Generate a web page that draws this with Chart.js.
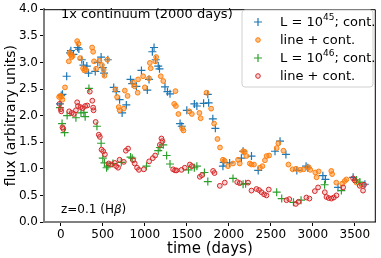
<!DOCTYPE html>
<html>
<head>
<meta charset="utf-8">
<script src="https://cdn.jsdelivr.net/npm/chart.js@4.4.1/dist/chart.umd.min.js"></script>
<style>
  html, body { margin: 0; padding: 0; background: #fff; }
  #wrap { width: 381px; height: 258px; }
</style>
</head>
<body>
<div id="wrap"><canvas id="fluxChart" width="381" height="258"></canvas></div>
<script>
// light curves (days, arbitrary flux)
const cont45Days = [-10, 5, 20, 70, 110, 120, 150, 200, 215, 250, 270, 310, 330, 410, 440, 480, 500, 515, 560, 630, 660, 700, 730, 780, 830, 850, 900, 960, 1030, 1050, 1090, 1110, 1130, 1160, 1175, 1240, 1270, 1300, 1420, 1440, 1500, 1590, 1620, 1700, 1750, 1760, 1810, 1840, 1930, 1940, 2010, 2150, 2170, 2270, 2350, 2550, 2610, 2680, 2810, 2920, 2940, 3120, 3150, 3300, 3480, 3620];
const cont45Flux = [2.22, 2.38, 2.40, 2.74, 3.18, 3.22, 3.15, 3.28, 3.25, 3.05, 2.95, 2.93, 2.80, 2.83, 3.00, 3.10, 2.90, 2.80, 3.05, 2.53, 2.45, 2.30, 2.05, 2.20, 2.68, 2.60, 2.55, 2.85, 2.48, 2.68, 3.20, 3.28, 3.05, 2.93, 2.88, 2.54, 2.45, 2.41, 1.85, 1.80, 2.10, 2.22, 2.18, 2.23, 2.40, 2.24, 1.94, 1.76, 1.05, 1.12, 1.11, 1.20, 1.33, 1.24, 0.97, 1.33, 1.52, 1.27, 0.97, 1.05, 1.02, 0.87, 0.80, 0.65, 0.84, 0.71];

const line45Days = [-20, -5, 10, 20, 50, 95, 105, 115, 130, 140, 195, 210, 230, 265, 280, 300, 373, 385, 395, 420, 460, 490, 510, 520, 555, 650, 670, 690, 700, 750, 762, 795, 860, 880, 915, 920, 980, 1000, 1050, 1060, 1070, 1125, 1135, 1190, 1220, 1365, 1350, 1370, 1400, 1445, 1460, 1530, 1560, 1650, 1665, 1735, 1790, 1825, 1865, 1895, 1930, 1950, 1990, 2050, 2110, 2130, 2170, 2190, 2210, 2250, 2270, 2300, 2370, 2400, 2430, 2450, 2480, 2570, 2590, 2650, 2710, 2760, 2800, 2850, 2890, 2950, 2970, 3030, 3045, 3070, 3220, 3230, 3280, 3350, 3380, 3400, 3520, 3580];
const line45Flux = [2.35, 2.37, 2.36, 2.30, 2.53, 3.02, 3.18, 3.15, 3.10, 3.12, 3.40, 3.35, 3.08, 2.89, 2.85, 2.86, 3.28, 3.20, 3.02, 2.88, 3.03, 2.95, 2.86, 2.75, 3.05, 2.49, 2.35, 2.16, 2.10, 2.13, 2.47, 2.37, 2.62, 2.55, 2.43, 2.68, 2.74, 2.53, 2.70, 2.99, 2.89, 3.02, 3.10, 2.74, 2.65, 2.46, 2.22, 2.18, 2.03, 1.76, 1.72, 2.08, 2.03, 2.05, 1.95, 2.43, 2.13, 1.85, 1.56, 1.40, 1.17, 1.15, 1.05, 1.10, 1.17, 1.10, 1.33, 1.32, 1.24, 1.10, 1.08, 1.08, 1.02, 1.05, 1.16, 1.24, 1.25, 1.39, 1.48, 1.34, 1.08, 0.99, 1.00, 0.98, 0.99, 1.03, 0.98, 0.93, 0.84, 0.95, 0.96, 0.90, 0.74, 0.72, 0.77, 0.80, 0.74, 0.70];

const cont46Days = [-10, 15, 45, 75, 180, 240, 275, 290, 335, 430, 480, 500, 520, 545, 560, 620, 720, 830, 850, 1020, 1160, 1180, 1220, 1260, 1300, 1520, 1590, 1620, 1710, 1750, 2050, 2170, 2200, 2570, 2630, 2770, 2860, 3140, 3340, 3520, 3560];
const cont46Flux = [2.15, 1.85, 1.68, 2.00, 1.96, 2.05, 2.06, 1.98, 2.51, 1.80, 1.48, 1.20, 1.11, 1.02, 1.05, 1.10, 1.12, 1.22, 1.20, 1.05, 1.34, 1.40, 1.45, 1.25, 1.09, 0.98, 1.02, 1.05, 0.93, 0.76, 0.82, 0.71, 0.72, 0.56, 0.44, 0.37, 0.41, 0.70, 0.59, 0.79, 0.75];

const line46Days = [-15, 0, 5, 20, 30, 100, 130, 155, 180, 195, 205, 235, 260, 290, 315, 345, 375, 385, 390, 415, 452, 465, 485, 505, 525, 570, 600, 643, 660, 682, 700, 750, 774, 801, 861, 880, 908, 930, 988, 1052, 1095, 1123, 1179, 1198, 1210, 1337, 1360, 1377, 1437, 1476, 1536, 1560, 1655, 1680, 1813, 1830, 1893, 1952, 2100, 2130, 2230, 2270, 2330, 2360, 2389, 2420, 2449, 2476, 2687, 2720, 2798, 2830, 2924, 2960, 3024, 3063, 3143, 3163, 3190, 3222, 3250, 3282, 3361, 3480, 3500, 3559, 3598, 3610];
const line46Flux = [2.22, 2.12, 2.08, 1.78, 1.75, 2.08, 2.05, 2.03, 2.10, 2.25, 2.18, 2.16, 2.14, 2.18, 2.19, 2.45, 2.28, 2.15, 2.10, 1.88, 1.64, 1.60, 1.36, 1.33, 1.27, 1.10, 1.08, 1.11, 1.05, 1.02, 1.17, 1.13, 1.34, 1.38, 1.16, 1.10, 1.02, 0.98, 0.99, 1.14, 1.20, 1.25, 1.45, 1.57, 1.52, 0.99, 0.97, 0.97, 0.98, 1.02, 1.08, 1.05, 0.85, 0.88, 0.96, 0.92, 0.68, 0.74, 0.75, 0.73, 0.74, 0.59, 0.62, 0.60, 0.56, 0.52, 0.50, 0.61, 0.41, 0.43, 0.34, 0.38, 0.46, 0.44, 0.58, 0.65, 0.56, 0.47, 0.45, 0.44, 0.46, 0.50, 0.65, 0.82, 0.78, 0.68, 0.59, 0.70];

const xTicks = [0, 500, 1000, 1500, 2000, 2500, 3000, 3500];
const yTicks = [0, 0.5, 1, 1.5, 2, 2.5, 3, 3.5, 4];

const FONT = '"DejaVu Sans", sans-serif';

function pts(xs, ys) {
    return xs.map((x, i) => ({ x: x, y: ys[i] }));
}

// legend entries (drawn by hand so the superscripts look right)
const legendItems = [
    { kind: 'cross', color: '#1f77b4', fill: null, pre: 'L = 10', sup: '45', post: '; cont.' },
    { kind: 'circle', color: '#ff7f0e', fill: 'rgba(255,127,14,0.5)', pre: 'line + cont.', sup: '', post: '' },
    { kind: 'cross', color: '#2ca02c', fill: null, pre: 'L = 10', sup: '46', post: '; cont.' },
    { kind: 'circle', color: '#d62728', fill: 'rgba(214,39,40,0.2)', pre: 'line + cont.', sup: '', post: '' }
];

const extras = {
    id: 'extras',
    afterDraw(chart) {
        const ctx = chart.ctx;
        const a = chart.chartArea;
        ctx.save();

        // top and right spines (thin black)
        ctx.strokeStyle = '#000';
        ctx.lineWidth = 1;
        ctx.beginPath();
        ctx.moveTo(a.left, a.top + 0.5);
        ctx.lineTo(a.right - 0.5, a.top + 0.5);
        ctx.lineTo(a.right - 0.5, a.bottom);
        ctx.stroke();

        // annotations
        ctx.fillStyle = '#000';
        ctx.textBaseline = 'middle';
        ctx.textAlign = 'left';
        ctx.font = '13px ' + FONT;
        ctx.fillText('1x continuum (2000 days)', 61, 15);
        ctx.font = '12px ' + FONT;
        let zx = 61;
        ctx.fillText('z=0.1 (H', zx, 210);
        zx += ctx.measureText('z=0.1 (H').width;
        ctx.font = 'italic 12px ' + FONT;
        ctx.fillText('β', zx, 210);
        zx += ctx.measureText('β').width;
        ctx.font = '12px ' + FONT;
        ctx.fillText(')', zx, 210);

        // legend box
        const bx = 242, by = 10, bw = 131, bh = 77, r = 3;
        ctx.beginPath();
        ctx.moveTo(bx + r, by);
        ctx.arcTo(bx + bw, by, bx + bw, by + bh, r);
        ctx.arcTo(bx + bw, by + bh, bx, by + bh, r);
        ctx.arcTo(bx, by + bh, bx, by, r);
        ctx.arcTo(bx, by, bx + bw, by, r);
        ctx.closePath();
        ctx.fillStyle = 'rgba(255,255,255,0.8)';
        ctx.fill();
        ctx.strokeStyle = '#d0d0d0';
        ctx.stroke();

        legendItems.forEach((it, i) => {
            const cy = 22 + i * 18;
            const mx = 258;
            ctx.lineWidth = 1.2;
            ctx.strokeStyle = it.color;
            if (it.kind === 'cross') {
                ctx.beginPath();
                ctx.moveTo(mx - 4, cy); ctx.lineTo(mx + 4, cy);
                ctx.moveTo(mx, cy - 4); ctx.lineTo(mx, cy + 4);
                ctx.stroke();
            } else {
                ctx.beginPath();
                ctx.arc(mx, cy, 2.3, 0, Math.PI * 2);
                ctx.fillStyle = it.fill;
                ctx.fill();
                ctx.lineWidth = 1;
                ctx.stroke();
            }
            ctx.fillStyle = '#000';
            ctx.font = '13px ' + FONT;
            let tx = 280;
            ctx.fillText(it.pre, tx, cy + 1);
            tx += ctx.measureText(it.pre).width;
            if (it.sup) {
                ctx.font = '9px ' + FONT;
                ctx.fillText(it.sup, tx, cy - 4);
                tx += ctx.measureText(it.sup).width;
                ctx.font = '13px ' + FONT;
                ctx.fillText(it.post, tx, cy + 1);
            }
        });
        ctx.restore();
    }
};

const ctxFlux = document.getElementById('fluxChart').getContext('2d');
const fluxChart = new Chart(ctxFlux, {
    type: 'scatter',
    data: {
        datasets: [
            {
                label: 'L = 10^45; cont.',
                data: pts(cont45Days, cont45Flux),
                pointStyle: 'cross',
                pointRadius: 4,
                borderColor: '#1f77b4',
                pointBorderWidth: 1.2,
                order: 4
            },
            {
                label: 'line + cont.',
                data: pts(line45Days, line45Flux),
                pointStyle: 'circle',
                pointRadius: 2.4,
                borderColor: '#ff7f0e',
                backgroundColor: 'rgba(255,127,14,0.5)',
                pointBorderWidth: 1,
                order: 3
            },
            {
                label: 'L = 10^46; cont.',
                data: pts(cont46Days, cont46Flux),
                pointStyle: 'cross',
                pointRadius: 4,
                borderColor: '#2ca02c',
                pointBorderWidth: 1.2,
                order: 2
            },
            {
                label: 'line + cont.',
                data: pts(line46Days, line46Flux),
                pointStyle: 'circle',
                pointRadius: 2.4,
                borderColor: '#d62728',
                backgroundColor: 'rgba(214,39,40,0.2)',
                pointBorderWidth: 1,
                order: 1
            }
        ]
    },
    options: {
        responsive: false,
        animation: false,
        layout: { padding: { top: 5, right: 5, left: 3, bottom: 0 } },
        scales: {
            x: {
                type: 'linear',
                min: -200,
                max: 3750,
                afterBuildTicks: (s) => { s.ticks = xTicks.map(v => ({ value: v })); },
                afterFit: (s) => { s.height = 36; },
                grid: { drawOnChartArea: false, tickLength: 4, color: '#000' },
                border: { color: '#808080', width: 2 },
                ticks: { color: '#000', font: { family: FONT, size: 12 }, padding: 2, maxRotation: 0, callback: (v) => String(v) },
                title: { display: true, text: 'time (days)', color: '#000', font: { family: FONT, size: 15 }, padding: { top: 0, bottom: 0 } }
            },
            y: {
                min: 0,
                max: 4,
                afterBuildTicks: (s) => { s.ticks = yTicks.map(v => ({ value: v })); },
                afterFit: (s) => { s.width = 41; },
                grid: { drawOnChartArea: false, tickLength: 4, color: '#000' },
                border: { color: '#808080', width: 2 },
                ticks: { color: '#000', font: { family: FONT, size: 12 }, padding: 2, callback: (v) => v.toFixed(1) },
                title: { display: true, text: 'flux (arbitrary units)', color: '#000', font: { family: FONT, size: 14 }, padding: { top: 0, bottom: 0 } }
            }
        },
        plugins: {
            legend: { display: false },
            tooltip: { enabled: false }
        }
    },
    plugins: [extras]
});
</script>
</body>
</html>
